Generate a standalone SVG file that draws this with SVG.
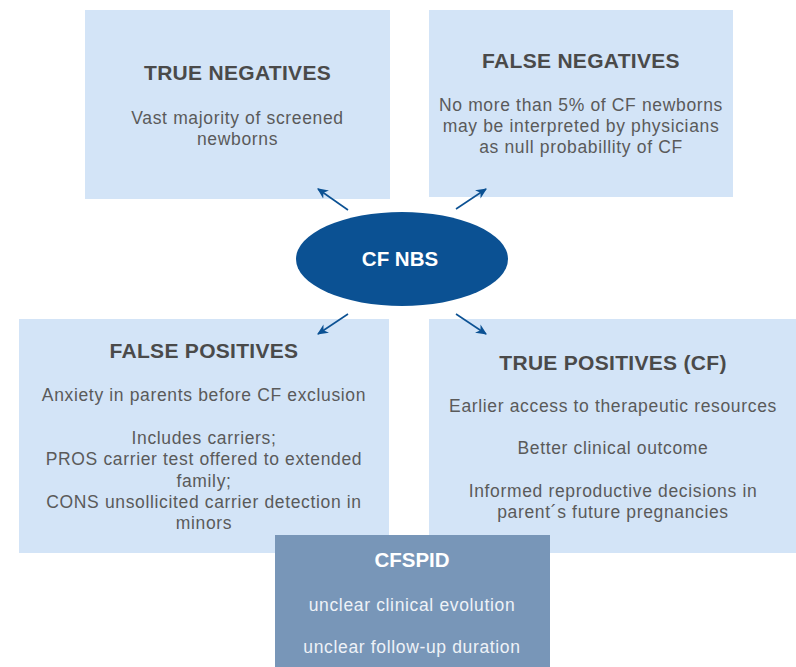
<svg xmlns="http://www.w3.org/2000/svg" width="796" height="667" viewBox="0 0 796 667">
  <style>
    .box { fill: #d3e4f7; }
    .title { font-family: "Liberation Sans", Arial, sans-serif; font-weight: bold; font-size: 21px; letter-spacing: 0.3px; fill: #4a4a4a; text-anchor: middle; }
    .body { font-family: "Liberation Sans", Arial, sans-serif; font-size: 17.5px; letter-spacing: 0.65px; fill: #5a5a5a; text-anchor: middle; }
    .conn { stroke: #0b5193; stroke-width: 1.6; fill: none; marker-end: url(#arrow); }
    .white-title { font-family: "Liberation Sans", Arial, sans-serif; font-weight: bold; font-size: 20.5px; fill: #ffffff; text-anchor: middle; }
    .white-body { font-family: "Liberation Sans", Arial, sans-serif; font-size: 17.5px; letter-spacing: 0.65px; fill: #eef2f7; text-anchor: middle; }
  </style>
  <defs>
    <marker id="arrow" viewBox="0 0 10 10" refX="9" refY="5" markerWidth="11" markerHeight="11" markerUnits="userSpaceOnUse" orient="auto">
      <path d="M0,0.5 L10,5 L0,9.5 L3,5 Z" fill="#0b5193"/>
    </marker>
  </defs>

  <rect width="796" height="667" fill="#ffffff"/>

  <g id="true-negatives">
    <rect class="box" x="85" y="10" width="305" height="189"/>
    <text class="title" x="237.5" y="80">TRUE NEGATIVES</text>
    <text class="body" x="237.5" y="124">Vast majority of screened</text>
    <text class="body" x="237.5" y="145">newborns</text>
  </g>

  <g id="false-negatives">
    <rect class="box" x="429" y="10" width="304" height="187"/>
    <text class="title" x="581" y="68">FALSE NEGATIVES</text>
    <text class="body" x="581" y="111">No more than 5% of CF newborns</text>
    <text class="body" x="581" y="132">may be interpreted by physicians</text>
    <text class="body" x="581" y="153">as null probabillity of CF</text>
  </g>

  <g id="false-positives">
    <rect class="box" x="19" y="319" width="370" height="234"/>
    <text class="title" x="204" y="358">FALSE POSITIVES</text>
    <text class="body" x="204" y="401">Anxiety in parents before CF exclusion</text>
    <text class="body" x="204" y="444">Includes carriers;</text>
    <text class="body" x="204" y="465">PROS carrier test offered to extended</text>
    <text class="body" x="204" y="487">family;</text>
    <text class="body" x="204" y="508">CONS unsollicited carrier detection in</text>
    <text class="body" x="204" y="529">minors</text>
  </g>

  <g id="true-positives">
    <rect class="box" x="429" y="319" width="367" height="234"/>
    <text class="title" x="613" y="370">TRUE POSITIVES (CF)</text>
    <text class="body" x="613" y="412">Earlier access to therapeutic resources</text>
    <text class="body" x="613" y="454">Better clinical outcome</text>
    <text class="body" x="613" y="497">Informed reproductive decisions in</text>
    <text class="body" x="613" y="518">parent´s future pregnancies</text>
  </g>

  <g id="cfspid">
    <rect x="275" y="535" width="275" height="132" fill="#7896b8"/>
    <text class="white-title" x="412" y="567">CFSPID</text>
    <text class="white-body" x="412" y="611">unclear clinical evolution</text>
    <text class="white-body" x="412" y="653">unclear follow-up duration</text>
  </g>

  <g id="cf-nbs">
    <ellipse cx="402" cy="259" rx="106" ry="47" fill="#0b5193"/>
    <text class="white-title" x="400" y="266">CF NBS</text>
  </g>

  <g id="connectors">
    <line class="conn" x1="348" y1="210" x2="318" y2="189"/>
    <line class="conn" x1="456" y1="209" x2="486" y2="189"/>
    <line class="conn" x1="348" y1="314" x2="318" y2="334"/>
    <line class="conn" x1="456" y1="314" x2="486" y2="334"/>
  </g>
</svg>
